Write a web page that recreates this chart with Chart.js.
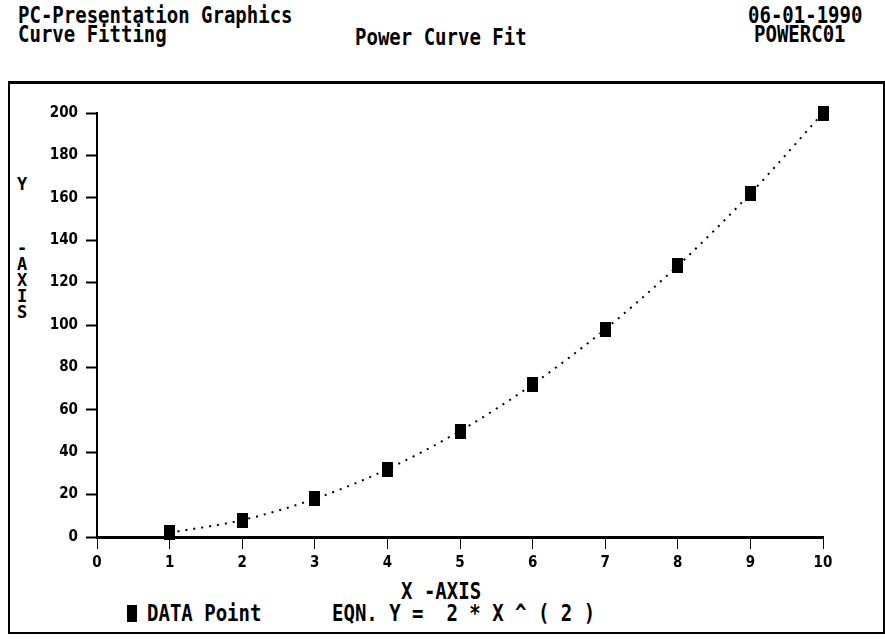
<!DOCTYPE html>
<html>
<head>
<meta charset="utf-8">
<script src="https://cdn.jsdelivr.net/npm/chart.js@4.4.1/dist/chart.umd.min.js"></script>
<style>
  body { margin: 0; background: #fff; }
  #wrap { position: relative; width: 885px; height: 644px; overflow: hidden; }
  .t {
    position: absolute;
    font-family: 'DejaVu Sans Mono', 'Liberation Mono', monospace;
    font-weight: bold;
    font-size: 19px;
    line-height: 19px;
    color: #000;
    white-space: pre;
    transform: scaleY(1.2);
    transform-origin: left top;
  }
  #frame { position: absolute; left: 8px; top: 81px; width: 873px; height: 548px; border: 2px solid #000; border-top-width: 3px; }
  #ytitle {
    position: absolute; left: 15px; top: 176px; width: 14px; text-align: center;
    font-family: 'DejaVu Sans Mono', monospace; font-weight: bold; font-size: 17px; line-height: 16px;
  }
  #chart { position: absolute; left: 0; top: 0; }
  .sq { position: absolute; left: 127px; top: 605px; width: 10px; height: 17px; background: #000; }
</style>
</head>
<body>
<div id="wrap">
  <div id="frame"></div>
  <div class="t" style="left:18px;top:4px;">PC-Presentation Graphics</div>
  <div class="t" style="left:18px;top:23px;">Curve Fitting</div>
  <div class="t" style="left:355px;top:26px;">Power Curve Fit</div>
  <div class="t" style="left:748px;top:4px;">06-01-1990</div>
  <div class="t" style="left:754px;top:23px;">POWERC01</div>
  <div id="ytitle">Y<br><br><br><br>-<br>A<br>X<br>I<br>S</div>
  <div class="t" style="left:401px;top:580px;">X -AXIS</div>
  <div class="sq"></div>
  <div class="t" style="left:147px;top:602px;">DATA Point</div>
  <div class="t" style="left:332px;top:602px;">EQN. Y =  2 * X ^ ( 2 )</div>
  <canvas id="chart" width="885" height="644"></canvas>
</div>
<script>
const xValues = [1, 2, 3, 4, 5, 6, 7, 8, 9, 10];
const yValues = [2, 8, 18, 32, 50, 72, 98, 128, 162, 200];
const xTicks = [0, 1, 2, 3, 4, 5, 6, 7, 8, 9, 10];
const yTicks = [0, 20, 40, 60, 80, 100, 120, 140, 160, 180, 200];

const points = xValues.map((x, i) => ({ x, y: yValues[i] }));

// tall black block used as the data marker
const marker = document.createElement('canvas');
marker.width = 11;
marker.height = 15;
const mctx = marker.getContext('2d');
mctx.fillStyle = '#000';
mctx.fillRect(0, 0, 11, 15);

const tickFont = { family: "'DejaVu Sans Condensed', sans-serif", size: 15, weight: 'bold' };

new Chart(document.getElementById('chart'), {
  type: 'scatter',
  data: {
    datasets: [
      {
        label: 'Fit',
        data: points,
        showLine: true,
        borderColor: '#000',
        borderWidth: 2,
        borderDash: [2, 6],
        cubicInterpolationMode: 'monotone',
        pointRadius: 0,
        pointHoverRadius: 0,
        clip: false
      },
      {
        label: 'DATA Point',
        data: points,
        showLine: false,
        pointStyle: marker,
        pointRadius: 7,
        clip: false
      }
    ]
  },
  options: {
    responsive: false,
    animation: false,
    layout: { padding: { left: 0, top: 113, right: 62, bottom: 0 } },
    plugins: {
      legend: { display: false },
      tooltip: { enabled: false }
    },
    scales: {
      x: {
        type: 'linear',
        min: 0,
        max: 10,
        afterBuildTicks: (s) => { s.ticks = xTicks.map((v) => ({ value: v })); },
        afterFit: (s) => { s.height = 644 - 537; },
        border: { color: '#000', width: 3 },
        grid: { drawOnChartArea: false, color: '#000', tickLength: 12, tickWidth: 1 },
        ticks: { color: '#000', font: tickFont, padding: 5 }
      },
      y: {
        type: 'linear',
        min: 0,
        max: 200,
        afterBuildTicks: (s) => { s.ticks = yTicks.map((v) => ({ value: v })); },
        afterFit: (s) => { s.width = 97; },
        border: { color: '#000', width: 2 },
        grid: { drawOnChartArea: false, color: '#000', tickLength: 11, tickWidth: 2 },
        ticks: { color: '#000', font: tickFont, padding: 8 }
      }
    }
  }
});
</script>
</body>
</html>
